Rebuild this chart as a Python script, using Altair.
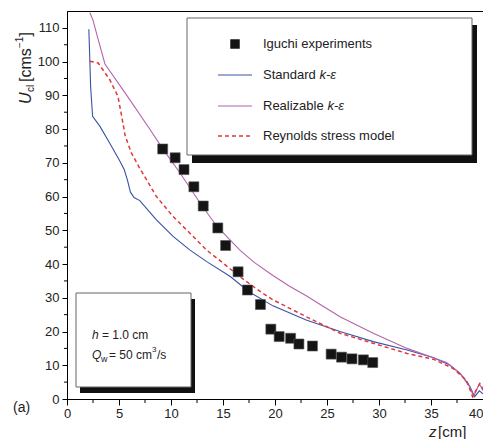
import altair as alt
import pandas as pd

# ---------------- data ----------------
exp_z = [9.2, 10.4, 11.25, 12.2, 13.1, 14.5, 15.25, 16.45, 17.35, 18.6,
         19.6, 20.4, 21.5, 22.3, 23.6, 25.4, 26.4, 27.4, 28.5, 29.4]
exp_u = [74.1, 71.5, 68.0, 62.9, 57.2, 50.7, 45.5, 37.7, 32.3, 28.0,
         20.7, 18.5, 18.0, 16.3, 15.7, 13.3, 12.4, 11.9, 11.6, 10.8]

std_z = [2.1, 2.2, 2.27, 2.46, 3.17, 4.1, 5.0, 5.5, 5.8, 6.1, 6.45, 7.0, 8.6,
         10.2, 11.8, 13.4, 15.7, 17.5, 19.8, 23.0, 26.25, 29.45, 32.7, 35.2,
         36.8, 37.8, 38.75, 39.2, 39.65, 40.0]
std_u = [109.6, 100.0, 92.7, 83.8, 80.8, 75.9, 71.0, 68.0, 65.0, 61.3, 59.7,
         58.8, 53.1, 48.2, 44.2, 40.8, 36.3, 31.8, 27.6, 23.4, 20.0, 17.0,
         14.5, 12.3, 10.1, 7.6, 3.6, 0.7, 2.4, 1.5]

rke_z = [2.2, 2.5, 3.0, 3.65, 5.7, 8.0, 9.26, 10.87, 12.8, 14.4, 16.6, 18.0,
         19.8, 21.4, 23.0, 26.25, 29.45, 32.7, 34.9, 36.5, 37.8, 38.6, 39.1,
         39.65, 40.0]
rke_u = [114.5, 112.3, 106.5, 99.3, 90.2, 79.8, 73.9, 67.0, 58.1, 51.2, 44.2,
         40.5, 36.6, 33.4, 30.6, 24.4, 19.5, 15.0, 12.6, 10.8, 7.5, 4.5, 0.8,
         4.5, 2.5]

rsm_z = [2.2, 3.0, 4.1, 4.9, 5.26, 5.6, 6.2, 6.9, 8.6, 10.2, 11.8, 13.4, 15.0,
         16.6, 18.6, 19.8, 23.0, 26.25, 29.45, 32.7, 35.2, 37.1, 38.4, 39.0,
         39.7, 40.0]
rsm_u = [100.1, 99.6, 94.7, 89.7, 83.8, 77.9, 72.9, 68.9, 60.0, 54.1, 49.2,
         44.2, 40.3, 36.3, 31.8, 29.4, 24.4, 19.5, 16.5, 13.5, 11.8, 9.1, 5.6,
         0.7, 4.6, 2.8]

x_ticks = [0, 5, 10, 15, 20, 25, 30, 35, 40]
x_minor = [2.5, 7.5, 12.5, 17.5, 22.5, 27.5, 32.5, 37.5]
y_ticks = [0, 10, 20, 30, 40, 50, 60, 70, 80, 90, 100, 110]
y_minor = [5, 15, 25, 35, 45, 55, 65, 75, 85, 95, 105]

BLUE = "#3a52a4"
PURPLE = "#b463ac"
RED = "#e0383a"
FONT = "Liberation Sans"

W, H = 416, 388

xs = alt.Scale(domain=[0, 40], nice=False, zero=False)
ys = alt.Scale(domain=[0, 115], nice=False, zero=False)

x_axis = alt.Axis(values=x_ticks, title=None, tickSize=6, labelFontSize=13,
                  labelPadding=2, labelFont=FONT, labelColor="#222",
                  domainColor="black", tickColor="black", grid=False,
                  labelFlush=False,
                  labelAlign={"condition": {"test": "datum.value >= 40",
                                            "value": "right"},
                              "value": "center"})
y_axis = alt.Axis(values=y_ticks, title=None, tickSize=5, labelFontSize=13,
                  labelPadding=3, labelFont=FONT, labelColor="#222",
                  domainColor="black", tickColor="black", grid=False)


def X(f="z:Q"):
    return alt.X(f, scale=xs, axis=x_axis)


def Y(f="u:Q"):
    return alt.Y(f, scale=ys, axis=y_axis)


def line_layer(z, u, color, width=1.1, dash=None):
    df = pd.DataFrame({"z": z, "u": u, "o": list(range(len(z)))})
    kw = dict(color=color, strokeWidth=width)
    if dash:
        kw["strokeDash"] = dash
    return alt.Chart(df).mark_line(**kw).encode(x=X(), y=Y(), order="o:Q")


one = pd.DataFrame({"a": [0]})


def rect(x1, x2, y1, y2, fill, stroke=None):
    kw = dict(fill=fill)
    if stroke:
        kw.update(stroke=stroke, strokeWidth=1)
    return alt.Chart(one).mark_rect(**kw).encode(
        x=alt.value(x1), x2=alt.value(x2), y=alt.value(y1), y2=alt.value(y2))


def txt(s, x, y, size=13, style="normal", align="left", angle=0, color="#222"):
    return alt.Chart(one).mark_text(
        text=s, font=FONT, fontSize=size, fontStyle=style, align=align,
        baseline="middle", angle=angle, color=color).encode(
        x=alt.value(x), y=alt.value(y))


def seg(x1, x2, y, color, width=1.2, dash=None):
    kw = dict(color=color, strokeWidth=width)
    if dash:
        kw["strokeDash"] = dash
    return alt.Chart(one).mark_rule(**kw).encode(
        x=alt.value(x1), x2=alt.value(x2), y=alt.value(y))


# minor ticks
xminor = alt.Chart(pd.DataFrame({"z": x_minor})).mark_rule(
    color="black", strokeWidth=1).encode(x=X(), y=alt.value(H), y2=alt.value(H + 4))
yminor = alt.Chart(pd.DataFrame({"u": y_minor})).mark_rule(
    color="black", strokeWidth=1).encode(y=Y(), x=alt.value(-3), x2=alt.value(0))

std = line_layer(std_z, std_u, BLUE)
rke = line_layer(rke_z, rke_u, PURPLE)
rsm = line_layer(rsm_z, rsm_u, RED, width=1.5, dash=[4, 3])

exp = alt.Chart(pd.DataFrame({"z": exp_z, "u": exp_u})).mark_point(
    shape="square", filled=True, size=100, color="#141414", opacity=1,
    stroke="#555", strokeWidth=0.6).encode(x=X(), y=Y())

# legend box
leg = [
    rect(125, 410, 14, 152, "#111"),
    rect(120, 405, 7, 144, "white", "#666"),
    alt.Chart(one).mark_point(shape="square", filled=True, size=90,
                              color="#141414", opacity=1).encode(
        x=alt.value(168), y=alt.value(33)),
    txt("Iguchi experiments", 196, 33),
    seg(151, 185, 64, BLUE),
    txt("Standard", 196, 64),
    txt("k-ε", 252.5, 64, style="italic"),
    seg(151, 185, 95, PURPLE),
    txt("Realizable", 196, 95),
    txt("k-ε", 260.5, 95, style="italic"),
    seg(151, 185, 125, RED, width=1.5, dash=[4, 3]),
    txt("Reynolds stress model", 196, 125),
]

# annotation box
ann = [
    rect(13, 128, 288, 382, "#111"),
    rect(9, 124, 282, 376, "white", "#666"),
    txt("h", 25, 324, size=12, style="italic"),
    txt("= 1.0 cm", 35, 324, size=12),
    txt("Q", 25, 344, size=12, style="italic"),
    txt("w", 34, 348, size=9),
    txt("= 50 cm", 42, 344, size=12),
    txt("3", 85, 339, size=8),
    txt("/s", 90, 344, size=12),
]

# axis titles
titles = [
    txt("U", -41, 93, size=16, style="italic", angle=270),
    txt("cl", -36, 81, size=10, angle=270),
    txt("[cms", -41, 71, size=16, angle=270),
    txt("−1", -47, 37, size=10, angle=270),
    txt("]", -41, 25.5, size=16, angle=270),
    txt("z", 362, 421, size=15, style="italic"),
    txt("[cm]", 371, 421, size=15),
    txt("(a)", -54, 397, size=14),
]

chart = alt.layer(
    xminor, yminor, std, rke, rsm, exp, *leg, *ann, *titles
).properties(
    width=W, height=H,
    autosize=alt.AutoSizeParams(type="none"),
    padding={"left": 59, "top": 3, "right": 0, "bottom": 40},
).configure_view(stroke="black", strokeWidth=1)

chart.save("out.html", embed_options={"renderer": "svg", "actions": False})
